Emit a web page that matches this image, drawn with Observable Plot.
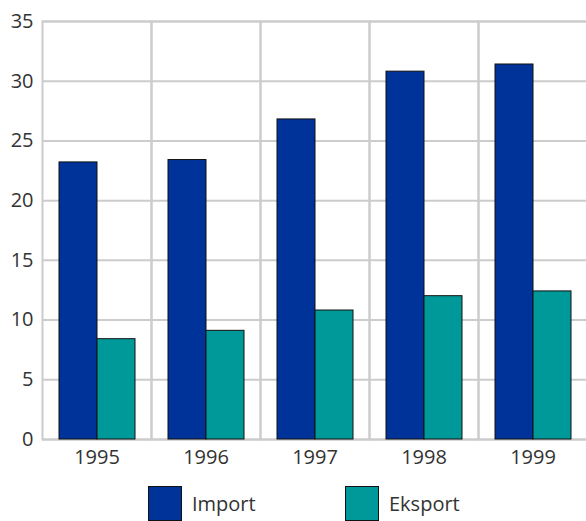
<!DOCTYPE html>
<html>
<head>
<meta charset="utf-8">
<script src="https://cdn.jsdelivr.net/npm/d3@7"></script>
<script src="https://cdn.jsdelivr.net/npm/@observablehq/plot@0.6"></script>
<style>
  html, body { margin: 0; padding: 0; background: #fff; overflow: hidden; }
  body { font-family: "Open Sans", "Noto Sans", sans-serif; color: #333; }
  #chart svg { display: block; }
  .legend { display: flex; margin-top: 11px; padding-left: 148px; }
  .legend .item { display: flex; align-items: center; width: 197px; font-size: 20px; color: #333; }
  .legend .sw { width: 34px; height: 35px; border: 1px solid #111; margin-right: 10px; box-sizing: border-box; }
</style>
</head>
<body>
<div id="chart"></div>
<script>
const years = [1995, 1996, 1997, 1998, 1999];
const seriesNames = ["Import", "Eksport"];
const importVals = [23.2, 23.4, 26.8, 30.8, 31.4];
const eksportVals = [8.4, 9.1, 10.8, 12.0, 12.4];
const seriesColors = ["#003399", "#009999"];
const yTicks = [0, 5, 10, 15, 20, 25, 30, 35];

const rows = [];
years.forEach((yr, i) => {
  rows.push({year: String(yr), series: seriesNames[0], value: importVals[i]});
  rows.push({year: String(yr), series: seriesNames[1], value: eksportVals[i]});
});

const chart = Plot.plot({
  width: 586,
  height: 475,
  marginTop: 21,
  marginBottom: 36,
  marginLeft: 42,
  marginRight: -1,
  style: {fontSize: "20px", fontFamily: "'Open Sans', 'Noto Sans', sans-serif", color: "#333", background: "#fff"},
  fx: {domain: years.map(String), padding: 0, label: null},
  x: {domain: seriesNames, paddingInner: 0, paddingOuter: 0.42, axis: null},
  y: {domain: [0, 35], label: null},
  color: {domain: seriesNames, range: seriesColors},
  marks: [
    Plot.gridY(yTicks, {stroke: "#cccccc", strokeOpacity: 1, strokeWidth: 2}),
    Plot.frame({stroke: "#cccccc", strokeWidth: 2}),
    Plot.barY(rows, {fx: "year", x: "series", y: "value", fill: "series", stroke: "#111", strokeWidth: 1}),
    Plot.axisY(yTicks, {tickSize: 0, tickPadding: 9, label: null, fill: "#333"}),
    Plot.axisFx({anchor: "bottom", tickSize: 0, tickPadding: 10, label: null, fill: "#333"})
  ]
});
document.getElementById("chart").appendChild(chart);

const legend = document.createElement("div");
legend.className = "legend";
seriesNames.forEach((name, i) => {
  const item = document.createElement("div");
  item.className = "item";
  const sw = document.createElement("div");
  sw.className = "sw";
  sw.style.background = seriesColors[i];
  const label = document.createElement("span");
  label.textContent = name;
  item.appendChild(sw);
  item.appendChild(label);
  legend.appendChild(item);
});
document.body.appendChild(legend);
</script>
</body>
</html>
